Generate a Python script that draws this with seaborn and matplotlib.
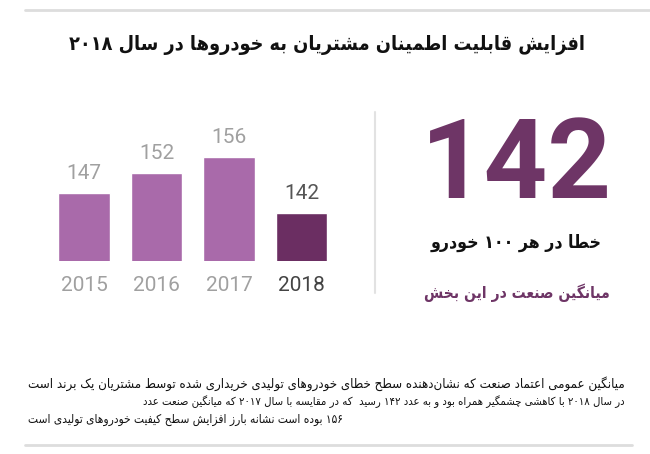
import matplotlib
matplotlib.use("Agg")
import matplotlib.pyplot as plt
import seaborn as sns
from matplotlib.lines import Line2D

# ---------------- data ----------------
years = ["2015", "2016", "2017", "2018"]
values = [147, 152, 156, 142]
bar_colors = ["#a96aaa", "#a96aaa", "#a96aaa", "#6b2e62"]
year_label_colors = ["#a0a0a0", "#a0a0a0", "#a0a0a0", "#444444"]
value_label_colors = ["#a0a0a0", "#a0a0a0", "#a0a0a0", "#555555"]

big_number = "142"
title_text = "افزایش قابلیت اطمینان مشتریان به خودروها در سال ۲۰۱۸"
unit_text = "خطا در هر ۱۰۰ خودرو"
avg_text = "میانگین صنعت در این بخش"
para_lines = [
    "میانگین عمومی اعتماد صنعت که نشان\u200cدهنده سطح خطای خودروهای تولیدی خریداری شده توسط مشتریان یک برند است",
    "در سال ۲۰۱۸ با کاهشی چشمگیر همراه بود و به عدد ۱۴۲ رسید  که در مقایسه با سال ۲۰۱۷ که میانگین صنعت عدد",
    "۱۵۶ بوده است نشانه بارز افزایش سطح کیفیت خودروهای تولیدی است",
]

# ---------------- minimal Arabic/Persian shaping + bidi ----------------
FORMS = {
    "\u0627": ("\uFE8D", "\uFE8E", None, None),
    "\u0622": ("\uFE81", "\uFE82", None, None),
    "\u0628": ("\uFE8F", "\uFE90", "\uFE91", "\uFE92"),
    "\u067E": ("\uFB56", "\uFB57", "\uFB58", "\uFB59"),
    "\u062A": ("\uFE95", "\uFE96", "\uFE97", "\uFE98"),
    "\u062B": ("\uFE99", "\uFE9A", "\uFE9B", "\uFE9C"),
    "\u062C": ("\uFE9D", "\uFE9E", "\uFE9F", "\uFEA0"),
    "\u0686": ("\uFB7A", "\uFB7B", "\uFB7C", "\uFB7D"),
    "\u062D": ("\uFEA1", "\uFEA2", "\uFEA3", "\uFEA4"),
    "\u062E": ("\uFEA5", "\uFEA6", "\uFEA7", "\uFEA8"),
    "\u062F": ("\uFEA9", "\uFEAA", None, None),
    "\u0630": ("\uFEAB", "\uFEAC", None, None),
    "\u0631": ("\uFEAD", "\uFEAE", None, None),
    "\u0632": ("\uFEAF", "\uFEB0", None, None),
    "\u0698": ("\uFB8A", "\uFB8B", None, None),
    "\u0633": ("\uFEB1", "\uFEB2", "\uFEB3", "\uFEB4"),
    "\u0634": ("\uFEB5", "\uFEB6", "\uFEB7", "\uFEB8"),
    "\u0635": ("\uFEB9", "\uFEBA", "\uFEBB", "\uFEBC"),
    "\u0636": ("\uFEBD", "\uFEBE", "\uFEBF", "\uFEC0"),
    "\u0637": ("\uFEC1", "\uFEC2", "\uFEC3", "\uFEC4"),
    "\u0638": ("\uFEC5", "\uFEC6", "\uFEC7", "\uFEC8"),
    "\u0639": ("\uFEC9", "\uFECA", "\uFECB", "\uFECC"),
    "\u063A": ("\uFECD", "\uFECE", "\uFECF", "\uFED0"),
    "\u0641": ("\uFED1", "\uFED2", "\uFED3", "\uFED4"),
    "\u0642": ("\uFED5", "\uFED6", "\uFED7", "\uFED8"),
    "\u06A9": ("\uFB8E", "\uFB8F", "\uFB90", "\uFB91"),
    "\u06AF": ("\uFB92", "\uFB93", "\uFB94", "\uFB95"),
    "\u0644": ("\uFEDD", "\uFEDE", "\uFEDF", "\uFEE0"),
    "\u0645": ("\uFEE1", "\uFEE2", "\uFEE3", "\uFEE4"),
    "\u0646": ("\uFEE5", "\uFEE6", "\uFEE7", "\uFEE8"),
    "\u0647": ("\uFEE9", "\uFEEA", "\uFEEB", "\uFEEC"),
    "\u0648": ("\uFEED", "\uFEEE", None, None),
    "\u06CC": ("\uFBFC", "\uFBFD", "\uFBFE", "\uFBFF"),
}
LAM_ALEF = {"\u0627": ("\uFEFB", "\uFEFC"), "\u0622": ("\uFEF5", "\uFEF6")}


def _dual(c):
    return c in FORMS and FORMS[c][2] is not None


def _shape(s):
    out = []
    n = len(s)
    i = 0
    while i < n:
        c = s[i]
        if c in FORMS:
            prev = s[i - 1] if i > 0 else None
            jp = prev is not None and _dual(prev)
            if c == "\u0644" and i + 1 < n and s[i + 1] in LAM_ALEF:
                lig = LAM_ALEF[s[i + 1]]
                out.append(lig[1] if jp else lig[0])
                i += 2
                continue
            nxt = s[i + 1] if i + 1 < n else None
            jn = _dual(c) and nxt is not None and nxt in FORMS
            iso, fin, ini, med = FORMS[c]
            if jp and jn:
                out.append(med)
            elif jp:
                out.append(fin)
            elif jn:
                out.append(ini)
            else:
                out.append(iso)
        elif c == "\u200c":
            pass
        else:
            out.append(c)
        i += 1
    return out


DIGITS = set("0123456789۰۱۲۳۴۵۶۷۸۹")


def rtl(s):
    chars = _shape(s)
    tokens = []
    for ch in chars:
        if ch in DIGITS and tokens and tokens[-1][0] in DIGITS:
            tokens[-1] += ch
        else:
            tokens.append(ch)
    return "".join(reversed(tokens))


# ---------------- figure ----------------
W, H = 650, 454
fig = plt.figure(figsize=(W / 100, H / 100), dpi=100)
fig.patch.set_facecolor("white")
sns.set_style("white")
plt.rcParams["font.family"] = ["DejaVu Sans"]

AR = ["DejaVu Sans"]
NUM = ["Roboto", "DejaVu Sans"]
COND = "condensed"


def fx(px):
    return px / W


def fy(py):
    return 1 - py / H


# decorative gray rules
fig.add_artist(Line2D([fx(25), fx(650)], [fy(10), fy(10)], color="#dddddd", lw=2))
fig.add_artist(Line2D([fx(25), fx(632)], [fy(444.5), fy(444.5)], color="#dddddd", lw=2))
fig.add_artist(Line2D([fx(375), fx(375)], [fy(112), fy(293)], color="#e2e2e2", lw=1.5))

# title
fig.text(fx(327), fy(45), rtl(title_text), ha="center", va="center",
         fontsize=14.2, fontweight="bold", family=AR, fontstretch=COND,
         color="#111111")

# ---------------- bar chart ----------------
step = 72.5
left_px = 84 - step / 2
ax = fig.add_axes([fx(left_px), fy(261), (4 * step) / W, 121 / H])
sns.barplot(x=years, y=values, hue=years, palette=bar_colors, legend=False,
            width=0.717, saturation=1, ax=ax)
ax.set_ylim(130, 130 + 121 / 4)
ax.set_xlim(-0.5, 3.5)
for s in ax.spines.values():
    s.set_visible(False)
ax.set_yticks([])
ax.set_ylabel("")
ax.set_xlabel("")
ax.tick_params(axis="x", length=0, pad=11)
ax.set_xticks(range(len(years)))
ax.set_xticklabels(years, fontsize=15, family=NUM)
for lbl, col in zip(ax.get_xticklabels(), year_label_colors):
    lbl.set_color(col)
for i, (v, col) in enumerate(zip(values, value_label_colors)):
    ax.text(i, v + 2.6, str(v), ha="center", va="bottom", fontsize=15,
            family=NUM, color=col)
ax.patch.set_alpha(0)

# ---------------- right panel ----------------
fig.text(fx(516), fy(167), big_number, ha="center", va="center",
         fontsize=80, fontweight="bold", family=NUM, color="#6e3566")
fig.text(fx(516), fy(243), rtl(unit_text), ha="center", va="center",
         fontsize=12.7, fontweight="bold", family=AR, fontstretch=COND,
         color="#111111")
fig.text(fx(517), fy(293), rtl(avg_text), ha="center", va="center",
         fontsize=11.2, fontweight="bold", family=AR, fontstretch=COND,
         color="#6e3566")

# ---------------- paragraph ----------------
fig.text(fx(625), fy(384), rtl(para_lines[0]), ha="right", va="center",
         fontsize=9.5, family=AR, fontstretch=COND, color="#111111")
fig.text(fx(625), fy(402), rtl(para_lines[1]), ha="right", va="center",
         fontsize=8.1, family=AR, fontstretch=COND, color="#111111")
fig.text(fx(28), fy(420), rtl(para_lines[2]), ha="left", va="center",
         fontsize=8.6, family=AR, fontstretch=COND, color="#111111")

fig.savefig("out.png", dpi=100, facecolor="white")
